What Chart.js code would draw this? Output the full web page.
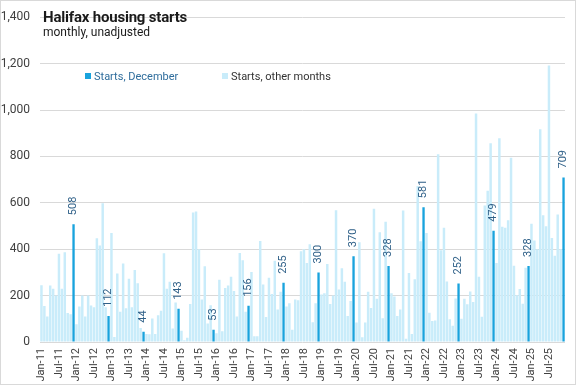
<!DOCTYPE html>
<html>
<head>
<meta charset="utf-8">
<script src="https://cdn.jsdelivr.net/npm/chart.js@4.4.1/dist/chart.umd.min.js"></script>
<style>
  body { margin: 0; background: #fff; }
  #wrap { position: relative; width: 576px; height: 385px; font-family: 'Liberation Sans Narrow', 'Roboto', sans-serif; }
  #title { position: absolute; left: 43px; top: 8px; font-size: 15px; font-weight: bold; color: #1a1a1a; letter-spacing: -0.2px; }
  #subtitle { position: absolute; left: 43px; top: 25px; font-size: 12px; color: #1a1a1a; }
  .leg { position: absolute; top: 70px; font-size: 11px; white-space: nowrap; }
  .leg span { display: inline-block; width: 6px; height: 6px; margin-right: 3px; vertical-align: 1px; }
</style>
</head>
<body>
<div id="wrap">
  <canvas id="housing-chart"></canvas>
  <div id="title">Halifax housing starts</div>
  <div id="subtitle">monthly, unadjusted</div>
  <div class="leg" style="left:85px;color:#2f6d9c"><span style="background:#19a3dd"></span>Starts, December</div>
  <div class="leg" style="left:222px;color:#333"><span style="background:#c9ecfa"></span>Starts, other months</div>
</div>
<script>
const years = ['11', '12', '13', '14', '15', '16', '17', '18', '19', '20', '21', '22', '23', '24', '25'];
const months = ['Jan', 'Feb', 'Mar', 'Apr', 'May', 'Jun', 'Jul', 'Aug', 'Sep', 'Oct', 'Nov', 'Dec'];

// monthly starts, Jan..Dec of each year
const starts2011 = [245, 155, 110, 243, 230, 200, 380, 230, 387, 125, 120, 508];
const starts2012 = [77, 153, 200, 110, 200, 157, 150, 447, 416, 598, 150, 112];
const starts2013 = [470, 22, 295, 130, 338, 146, 273, 150, 310, 253, 60, 44];
const starts2014 = [35, 33, 101, 35, 115, 135, 383, 230, 260, 58, 170, 143];
const starts2015 = [48, 8, 18, 164, 558, 562, 400, 183, 327, 80, 158, 53];
const starts2016 = [38, 268, 46, 233, 244, 281, 220, 110, 384, 352, 130, 156];
const starts2017 = [302, 25, 25, 435, 248, 108, 277, 207, 350, 140, 217, 255];
const starts2018 = [153, 167, 53, 183, 180, 391, 400, 340, 421, 85, 167, 300];
const starts2019 = [205, 210, 336, 164, 200, 568, 226, 318, 260, 112, 177, 370];
const starts2020 = [84, 430, 21, 84, 217, 147, 574, 186, 473, 102, 518, 328];
const starts2021 = [210, 196, 112, 140, 567, 14, 297, 35, 270, 672, 434, 581];
const starts2022 = [470, 126, 91, 93, 809, 395, 492, 261, 98, 70, 188, 252];
const starts2023 = [100, 186, 163, 218, 172, 985, 281, 109, 588, 652, 857, 479];
const starts2024 = [340, 878, 497, 492, 525, 794, 329, 202, 228, 165, 320, 328];
const starts2025 = [510, 438, 400, 917, 546, 499, 1192, 448, 372, 550, 400, 709];

const yTicks = [0, 200, 400, 600, 800, 1000, 1200, 1400];

const labels = years.flatMap(y => months.map(m => m + '-' + y));
const starts = [].concat(starts2011, starts2012, starts2013, starts2014, starts2015,
  starts2016, starts2017, starts2018, starts2019, starts2020, starts2021, starts2022,
  starts2023, starts2024, starts2025);
const decStarts = starts.map((v, i) => (i % 12 === 11 ? v : null));
const otherStarts = starts.map((v, i) => (i % 12 === 11 ? null : v));

const FONT = "'Liberation Sans Narrow', 'Roboto', sans-serif";

const frame = {
  id: 'frame',
  beforeDraw(chart) {
    const c = chart.ctx;
    c.save();
    c.fillStyle = '#fff';
    c.fillRect(0, 0, chart.width, chart.height);
    c.strokeStyle = '#d9d9d9';
    c.lineWidth = 1;
    c.strokeRect(0.5, 0.5, chart.width - 1, chart.height - 1);
    c.restore();
  }
};

const decLabels = {
  id: 'decLabels',
  afterDatasetsDraw(chart) {
    const c = chart.ctx;
    const meta = chart.getDatasetMeta(0);
    c.save();
    c.font = '11px ' + FONT;
    c.fillStyle = '#2f6088';
    c.textAlign = 'left';
    c.textBaseline = 'middle';
    meta.data.forEach((bar, i) => {
      const v = decStarts[i];
      if (v === null) return;
      c.save();
      c.translate(bar.x, bar.y - 9);
      c.rotate(-Math.PI / 2);
      c.fillText(String(v), 0, 0);
      c.restore();
    });
    c.restore();
  }
};

new Chart(document.getElementById('housing-chart'), {
  type: 'bar',
  data: {
    labels: labels,
    datasets: [
      {
        label: 'Starts, December',
        data: decStarts,
        backgroundColor: '#19a3dd',
        grouped: false,
        barPercentage: 0.8,
        categoryPercentage: 1
      },
      {
        label: 'Starts, other months',
        data: otherStarts,
        backgroundColor: '#c9ecfa',
        grouped: false,
        barPercentage: 0.85,
        categoryPercentage: 1
      }
    ]
  },
  options: {
    responsive: true,
    maintainAspectRatio: false,
    animation: false,
    layout: { padding: { left: 0, right: 11, top: 7, bottom: 4 } },
    plugins: {
      legend: { display: false },
      tooltip: { enabled: false }
    },
    scales: {
      x: {
        grid: { display: false, drawTicks: false },
        border: { display: false },
        afterFit: s => { s.height = 39; },
        ticks: {
          autoSkip: false,
          minRotation: 90,
          maxRotation: 90,
          padding: 6,
          color: '#404040',
          font: { family: FONT, size: 11 },
          callback: (v, i) => (i % 6 === 0 ? labels[i] : null)
        }
      },
      y: {
        min: 0,
        max: 1400,
        afterFit: s => { s.width = 40; },
        afterBuildTicks: s => { s.ticks = yTicks.map(v => ({ value: v })); },
        grid: { color: '#d9d9d9', drawTicks: false },
        border: { display: false },
        ticks: {
          padding: 10,
          color: '#404040',
          font: { family: FONT, size: 12 },
          callback: v => v.toLocaleString('en-US')
        }
      }
    }
  },
  plugins: [frame, decLabels]
});
</script>
</body>
</html>
